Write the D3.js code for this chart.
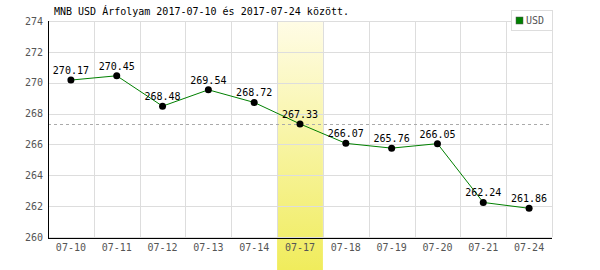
<!DOCTYPE html>
<html>
<head>
<meta charset="utf-8">
<script src="https://cdn.jsdelivr.net/npm/d3@7"></script>
<style>
body { margin:0; background:#fff; }
text { font-family:"DejaVu Sans Mono", monospace; font-size:10px; }
.grid line { stroke:#dddddd; stroke-width:1; }
.tick text { fill:#555; }
</style>
</head>
<body>
<svg id="chart"></svg>
<script>
var dates = ["07-10","07-11","07-12","07-13","07-14","07-17","07-18","07-19","07-20","07-21","07-24"]
var rates = [270.17,270.45,268.48,269.54,268.72,267.33,266.07,265.76,266.05,262.24,261.86]
var yTicks = [260,262,264,266,268,270,272,274]
var highlightDate = "07-17"
var refValue = 267.33
var titleText = "MNB USD Árfolyam 2017-07-10 és 2017-07-24 között."

var screen = {width:600,height:270}
var margins = {left:48,right:48,top:21,bottom:33}
var graph = {
    width:screen.width-margins.left-margins.right,
    height:screen.height-margins.top-margins.bottom
}

var svg = d3.select("#chart")
    .attr("width",screen.width)
    .attr("height",screen.height)

var defs = svg.append("defs")
var grad = defs.append("linearGradient")
    .attr("id","hl")
    .attr("x1",0).attr("y1",0).attr("x2",0).attr("y2",1)
grad.append("stop").attr("offset","0%").attr("stop-color","#fffce6")
grad.append("stop").attr("offset","100%").attr("stop-color","#f0ec5c")

var xScale = d3.scaleBand()
    .domain(dates)
    .range([0,graph.width])

var yScale = d3.scaleLinear()
    .domain([260,274])
    .range([graph.height,0])

var target = svg.append("g")
    .attr("transform","translate("+margins.left+","+margins.top+")")

// highlighted day
target.append("rect")
    .attr("x",xScale(highlightDate))
    .attr("y",0)
    .attr("width",xScale.bandwidth())
    .attr("height",screen.height-margins.top)
    .attr("fill","url(#hl)")

// grid
var grid = target.append("g").classed("grid",true)
grid.selectAll("line.h")
    .data(yTicks)
    .enter()
    .append("line")
    .attr("class","h")
    .attr("x1",0)
    .attr("x2",graph.width)
    .attr("y1",function(d){return Math.round(yScale(d))+0.5})
    .attr("y2",function(d){return Math.round(yScale(d))+0.5})
grid.selectAll("line.v")
    .data(dates)
    .enter()
    .append("line")
    .attr("class","v")
    .attr("x1",function(d){return Math.round(xScale(d)+xScale.bandwidth())+0.5})
    .attr("x2",function(d){return Math.round(xScale(d)+xScale.bandwidth())+0.5})
    .attr("y1",0)
    .attr("y2",graph.height)

// reference dashed line
target.append("line")
    .attr("x1",0)
    .attr("x2",graph.width)
    .attr("y1",Math.round(yScale(refValue))+0.5)
    .attr("y2",Math.round(yScale(refValue))+0.5)
    .attr("stroke","#aaaaaa")
    .attr("stroke-dasharray","3,3")

// axes
var yAxis = d3.axisLeft(yScale).tickValues(yTicks).tickSize(0).tickPadding(5)
target.append("g")
    .call(yAxis)
    .call(function(g){g.select(".domain").attr("stroke","#000").attr("d","M0.5,0V"+(graph.height+1))})

var xAxis = d3.axisBottom(xScale).tickSize(0).tickPadding(6)
target.append("g")
    .attr("transform","translate(0,"+(graph.height+1)+")")
    .call(xAxis)
    .call(function(g){g.select(".domain").attr("stroke","#000").attr("d","M0,0.5H"+graph.width)})

// line
var cx = function(d,i){return xScale(dates[i])+xScale.bandwidth()/2}
var line = d3.line()
    .x(function(d,i){return cx(d,i)})
    .y(function(d){return yScale(d)})
target.append("path")
    .datum(rates)
    .attr("d",line)
    .attr("fill","none")
    .attr("stroke","#008000")
    .attr("stroke-width",1)

target.selectAll("circle")
    .data(rates)
    .enter()
    .append("circle")
    .attr("cx",cx)
    .attr("cy",function(d){return yScale(d)})
    .attr("r",3.5)
    .attr("fill","#000")

target.selectAll("text.val")
    .data(rates)
    .enter()
    .append("text")
    .attr("class","val")
    .attr("x",cx)
    .attr("y",function(d){return yScale(d)-6})
    .attr("text-anchor","middle")
    .attr("fill","#000")
    .text(function(d){return d.toFixed(2)})

// title
svg.append("text")
    .attr("x",54)
    .attr("y",15)
    .attr("fill","#000")
    .text(titleText)

// legend
var legend = svg.append("g").attr("transform","translate(511,10)")
legend.append("rect")
    .attr("x",0.5).attr("y",0.5)
    .attr("width",41).attr("height",20)
    .attr("fill","#fff")
    .attr("stroke","#dddddd")
legend.append("rect")
    .attr("x",5).attr("y",7)
    .attr("width",7).attr("height",7)
    .attr("fill","#008000")
    .attr("stroke","#555")
    .attr("stroke-width",0.5)
legend.append("text")
    .attr("x",15).attr("y",14)
    .attr("fill","#555")
    .text("USD")
</script>
</body>
</html>
